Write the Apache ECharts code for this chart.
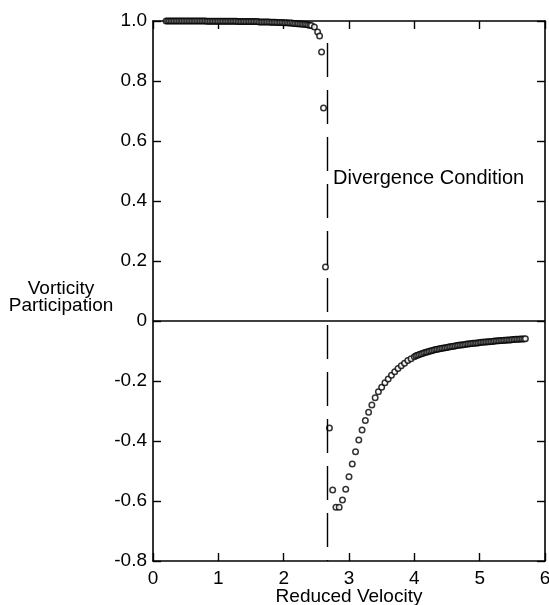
<!DOCTYPE html>
<html>
<head>
<meta charset="utf-8">
<script src="https://cdn.jsdelivr.net/npm/echarts@6/dist/echarts.min.js"></script>
<style>html,body{margin:0;padding:0;background:#fff;}#c{width:549px;height:605px;}</style>
</head>
<body>
<div id="c"></div>
<script>
// Upper branch (before divergence)
const upperX = [
  0.200,0.225,0.250,0.275,0.300,0.325,0.350,0.375,0.400,0.425,
  0.450,0.475,0.500,0.525,0.550,0.575,0.600,0.625,0.650,0.675,
  0.700,0.725,0.750,0.775,0.800,0.825,0.850,0.875,0.900,0.925,
  0.950,0.975,1.000,1.025,1.050,1.075,1.100,1.125,1.150,1.175,
  1.200,1.225,1.250,1.275,1.300,1.325,1.350,1.375,1.400,1.425,
  1.450,1.475,1.500,1.525,1.550,1.575,1.600,1.625,1.650,1.675,
  1.700,1.725,1.750,1.775,1.800,1.825,1.850,1.875,1.900,1.925,
  1.950,1.975,2.000,2.025,2.050,2.075,2.100,2.125,2.150,2.175,
  2.200,2.225,2.250,2.275,2.300,2.325,2.350,2.375,2.400,2.425,
  2.47,2.52,2.55,2.58,2.61,2.64];
const upperY = [
  1.000,1.000,1.000,1.000,1.000,1.000,1.000,1.000,1.000,1.000,
  1.000,1.000,1.000,1.000,1.000,1.000,1.000,1.000,1.000,1.000,
  1.000,1.000,1.000,1.000,1.000,0.999,0.999,0.999,0.999,0.999,
  0.999,0.999,0.999,0.999,0.999,0.999,0.999,0.999,0.999,0.999,
  0.999,0.999,0.999,0.999,0.998,0.998,0.998,0.998,0.998,0.998,
  0.998,0.998,0.998,0.998,0.998,0.998,0.998,0.997,0.997,0.997,
  0.997,0.997,0.997,0.997,0.996,0.996,0.996,0.996,0.995,0.995,
  0.995,0.995,0.994,0.994,0.994,0.993,0.993,0.993,0.992,0.992,
  0.991,0.991,0.990,0.990,0.989,0.989,0.988,0.987,0.986,0.985,
  0.980,0.963,0.950,0.897,0.710,0.180];
// Lower branch (after divergence)
const lowerX = [
  2.70,2.75,2.80,2.85,2.90,2.95,3.00,3.05,3.10,3.15,3.20,3.25,3.30,
  3.35,3.40,3.45,3.50,3.55,3.60,3.65,3.70,3.75,3.80,3.85,3.90,3.95,
  4.000,4.025,4.050,4.075,4.100,4.125,4.150,4.175,4.200,4.225,
  4.250,4.275,4.300,4.325,4.350,4.375,4.400,4.425,4.450,4.475,
  4.500,4.525,4.550,4.575,4.600,4.625,4.650,4.675,4.700,4.725,
  4.750,4.775,4.800,4.825,4.850,4.875,4.900,4.925,4.950,4.975,
  5.000,5.025,5.050,5.075,5.100,5.125,5.150,5.175,5.200,5.225,
  5.250,5.275,5.300,5.325,5.350,5.375,5.400,5.425,5.450,5.475,
  5.500,5.525,5.550,5.575,5.600,5.625,5.650,5.675,5.700];
const lowerY = [
  -0.357,-0.563,-0.621,-0.621,-0.597,-0.561,-0.519,-0.477,-0.436,-0.397,-0.363,-0.332,-0.304,
  -0.280,-0.256,-0.236,-0.221,-0.206,-0.193,-0.181,-0.169,-0.158,-0.149,-0.141,-0.132,-0.126,
  -0.119,-0.116,-0.114,-0.112,-0.110,-0.108,-0.106,-0.104,-0.103,-0.101,
  -0.100,-0.098,-0.097,-0.095,-0.094,-0.093,-0.092,-0.091,-0.090,-0.089,
  -0.088,-0.087,-0.086,-0.085,-0.084,-0.083,-0.082,-0.081,-0.080,-0.080,
  -0.079,-0.078,-0.077,-0.077,-0.076,-0.075,-0.074,-0.074,-0.073,-0.073,
  -0.072,-0.071,-0.071,-0.070,-0.070,-0.069,-0.069,-0.068,-0.068,-0.067,
  -0.067,-0.066,-0.066,-0.065,-0.065,-0.064,-0.064,-0.063,-0.063,-0.063,
  -0.062,-0.062,-0.061,-0.061,-0.061,-0.060,-0.060,-0.060,-0.059];
const divergenceX = 2.67;
const divergenceTop = 0.927;
const xTicks = ['0','1','2','3','4','5','6'];
const yTickLabels = {'1':'1.0','0.8':'0.8','0.6':'0.6','0.4':'0.4','0.2':'0.2','0':'0','-0.2':'-0.2','-0.4':'-0.4','-0.6':'-0.6','-0.8':'-0.8'};
const yTitle = 'Vorticity\nParticipation';
const xTitle = 'Reduced Velocity';
const note = 'Divergence Condition';

const font = '"Liberation Sans", Arial, Helvetica, sans-serif';
const upper = upperX.map((x,i)=>[x, upperY[i]]);
const lower = lowerX.map((x,i)=>[x, lowerY[i]]);

const chart = echarts.init(document.getElementById('c'), null, {renderer:'canvas'});
const axisLine = {show:true, onZero:false, lineStyle:{color:'#000', width:1.6}};
const tick = {show:true, inside:true, length:8, lineStyle:{color:'#000', width:1.4}};
chart.setOption({
  animation:false,
  backgroundColor:'#fff',
  grid:{left:153, right:4, top:21, bottom:44, containLabel:false, outerBoundsMode:'none'},
  xAxis:[{
    type:'value', min:0, max:6, interval:1, position:'bottom',
    axisLine, axisTick:tick, splitLine:{show:false},
    axisLabel:{color:'#000', fontFamily:font, fontSize:19, margin:8, formatter:v=>xTicks[Math.round(v)]},
    name:xTitle, nameLocation:'middle', nameGap:26, nameMoveOverlap:false,
    nameTextStyle:{color:'#000', fontFamily:font, fontSize:19}
  },{
    type:'value', min:0, max:6, interval:1, position:'top',
    axisLine, axisTick:tick, axisLabel:{show:false}, splitLine:{show:false}
  }],
  yAxis:[{
    type:'value', min:-0.8, max:1.0, interval:0.2, position:'left',
    axisLine, axisTick:tick, splitLine:{show:false},
    axisLabel:{color:'#000', fontFamily:font, fontSize:19, margin:6,
      formatter:v=>{const k=String(Math.round(v*10)/10); return yTickLabels[k]!==undefined?yTickLabels[k]:k;}}
  },{
    type:'value', min:-0.8, max:1.0, interval:0.2, position:'right',
    axisLine, axisTick:tick, axisLabel:{show:false}, splitLine:{show:false}
  }],
  graphic:[{
    type:'text', x:61, y:280,
    style:{text:yTitle, fill:'#000', font:'19px ' + font, align:'center', verticalAlign:'top', lineHeight:17}
  },{
    type:'text', left:333, top:168,
    style:{text:note, fill:'#000', font:'20px ' + font}
  }],
  series:[{
    type:'scatter', data:upper, symbol:'circle', symbolSize:5.5, clip:false,
    itemStyle:{color:'#fff', borderColor:'#000', borderWidth:1.5}
  },{
    type:'scatter', data:lower, symbol:'circle', symbolSize:5.5, clip:false,
    itemStyle:{color:'#fff', borderColor:'#000', borderWidth:1.5}
  },{
    type:'line', data:[], silent:true,
    markLine:{symbol:'none', silent:true, label:{show:false},
      data:[[{coord:[0,0]},{coord:[6,0]}]],
      lineStyle:{color:'#000', width:1.6, type:'solid'}}
  },{
    type:'line', data:[], silent:true,
    markLine:{symbol:'none', silent:true, label:{show:false},
      data:[[{coord:[divergenceX,divergenceTop]},{coord:[divergenceX,-0.8]}]],
      lineStyle:{color:'#000', width:1.4, type:[34,13]}}
  }]
});
</script>
</body>
</html>
